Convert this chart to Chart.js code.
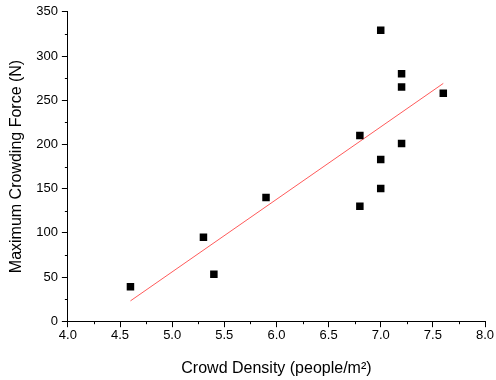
<!DOCTYPE html>
<html>
<head>
<meta charset="utf-8">
<script src="https://cdn.jsdelivr.net/npm/chart.js@4"></script>
<style>
  html, body { margin: 0; padding: 0; background: #fff; }
  #wrap { width: 496px; height: 380px; }
</style>
</head>
<body>
<div id="wrap"><canvas id="chart" width="496" height="380"></canvas></div>
<script>
// measured points
const density = [4.6, 5.3, 5.4, 5.9, 6.8, 6.8, 7.0, 7.0, 7.0, 7.2, 7.2, 7.2, 7.6];
const force   = [39, 95, 53, 140, 210, 130, 329, 183, 150, 280, 265, 201, 258];

// linear fit end points
const fitX = [4.6, 7.6];
const fitY = [23, 269];

const xTicks = [4.0, 4.5, 5.0, 5.5, 6.0, 6.5, 7.0, 7.5, 8.0];
const yTicks = [0, 50, 100, 150, 200, 250, 300, 350];

const font = "'Liberation Sans', Arial, sans-serif";

// minor ticks between the major ones
const minorTicks = {
    id: "minorTicks",
    afterDraw(chart) {
        const ctx = chart.ctx;
        const xs = chart.scales.x, ys = chart.scales.y;
        ctx.save();
        ctx.strokeStyle = "#000";
        ctx.lineWidth = 1;
        ctx.beginPath();
        for (let i = 0; i < xTicks.length - 1; i++) {
            const px = Math.round(xs.getPixelForValue((xTicks[i] + xTicks[i + 1]) / 2)) + 0.5;
            ctx.moveTo(px, ys.bottom);
            ctx.lineTo(px, ys.bottom + 3);
        }
        for (let i = 0; i < yTicks.length - 1; i++) {
            const py = Math.round(ys.getPixelForValue((yTicks[i] + yTicks[i + 1]) / 2)) + 0.5;
            ctx.moveTo(xs.left, py);
            ctx.lineTo(xs.left - 3, py);
        }
        ctx.stroke();
        ctx.restore();
    }
};

new Chart(document.getElementById("chart"), {
    type: "scatter",
    data: {
        datasets: [
            {
                data: density.map((d, i) => ({x: d, y: force[i]})),
                pointStyle: "rect",
                pointRadius: 5.3,
                pointHoverRadius: 5.3,
                backgroundColor: "#000",
                borderColor: "#000",
                borderWidth: 0
            },
            {
                type: "line",
                data: fitX.map((d, i) => ({x: d, y: fitY[i]})),
                borderColor: "#ff5a5a",
                borderWidth: 1,
                pointRadius: 0,
                fill: false
            }
        ]
    },
    options: {
        responsive: false,
        animation: false,
        layout: { padding: { top: 8, right: 11, left: 7, bottom: 2 } },
        plugins: { legend: { display: false }, tooltip: { enabled: false } },
        scales: {
            x: {
                type: "linear",
                min: 4, max: 8,
                afterBuildTicks: s => { s.ticks = xTicks.map(v => ({value: v})); },
                ticks: {
                    color: "#000",
                    font: { family: font, size: 13 },
                    padding: 0,
                    callback: v => v.toFixed(1)
                },
                grid: { drawOnChartArea: false, tickLength: 6, color: "#000" },
                border: { display: true, color: "#000", width: 1 },
                title: {
                    display: true,
                    text: "Crowd Density (people/m²)",
                    color: "#000",
                    font: { family: font, size: 16 },
                    padding: { top: 16, bottom: 0 }
                }
            },
            y: {
                min: 0, max: 350,
                afterBuildTicks: s => { s.ticks = yTicks.map(v => ({value: v})); },
                ticks: {
                    color: "#000",
                    font: { family: font, size: 13 },
                    padding: 4
                },
                grid: { drawOnChartArea: false, tickLength: 6, color: "#000" },
                border: { display: true, color: "#000", width: 1 },
                title: {
                    display: true,
                    text: "Maximum Crowding Force (N)",
                    color: "#000",
                    font: { family: font, size: 16 },
                    padding: { top: 0, bottom: 6 }
                }
            }
        }
    },
    plugins: [minorTicks]
});
</script>
</body>
</html>
